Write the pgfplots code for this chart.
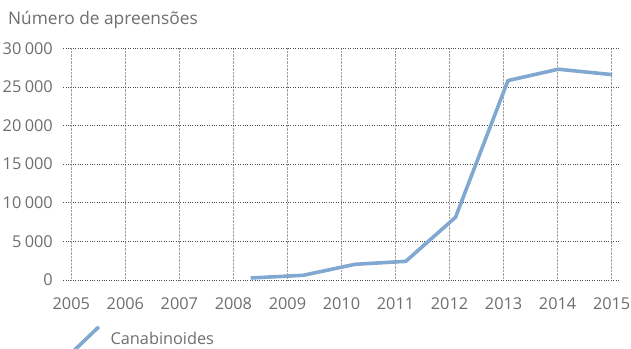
\documentclass[border=0pt]{standalone}
\usepackage{pgfplots}
\pgfplotsset{compat=1.18}
\usepackage{fontspec}
\setmainfont{Open Sans}
\definecolor{txtgray}{RGB}{110,110,110}
\definecolor{lineblue}{RGB}{129,168,208}
\begin{document}
\begin{tikzpicture}
\begin{axis}[
  at={(0,0)}, anchor=origin,
  scale only axis,
  width=556.4bp, height=231.7bp,
  xmin=2004.852, xmax=2015.148,
  ymin=0, ymax=30000,
  xtick={2005,...,2015},
  ytick={0,5000,...,30000},
  scaled ticks=false,
  major tick length=0pt,
  xmajorgrids, ymajorgrids,
  major x grid style={gray!75, densely dotted, line width=0.6bp},
  major y grid style={black!70, dotted, line width=0.6bp},
  axis line style={draw=none},
  tick style={draw=none},
  /pgf/number format/assume math mode=true,
  yticklabel={\pgfmathprintnumber[fixed, precision=0, 1000 sep={\hspace{3.5bp}}]{\tick}},
  xticklabel={\pgfmathprintnumber[fixed, precision=0, 1000 sep={}]{\tick}},
  tick label style={font=\fontsize{16.3bp}{19bp}\selectfont, text=txtgray, inner sep=0pt},
  xticklabel style={anchor=base, yshift=-29bp},
  yticklabel style={anchor=east, xshift=-10.3bp},
  legend style={draw=none, fill=none, inner sep=0pt, outer sep=0pt,
    at={(axis description cs:0,0)}, anchor=north west, xshift=8.7bp, yshift=-45bp,
    font=\fontsize{16.3bp}{19bp}\selectfont, text=txtgray,
    /tikz/every even column/.append style={column sep=0pt}},
  legend cell align=left,
  legend image code/.code={\draw[#1] (0bp,-12bp) -- (25bp,12bp); \path (33bp,0);},
]
\addplot[lineblue, line width=3.6bp, line join=round] coordinates {
(2008.32,260) (2009.29,610) (2010.25,2030) (2011.19,2420) (2012.11,8120) (2013.08,25820) (2014.01,27290) (2015.01,26590)
};
\addlegendentry{Canabinoides}
\end{axis}
\node[anchor=base west, inner sep=0pt, text=txtgray, font=\fontsize{17.3bp}{20bp}\selectfont] at (-55.3bp,255bp) {Número de apreensões};
\pgfresetboundingbox
\path[use as bounding box] (-63.3bp,-69bp) rectangle (567.7bp,280bp);
\end{tikzpicture}
\end{document}
